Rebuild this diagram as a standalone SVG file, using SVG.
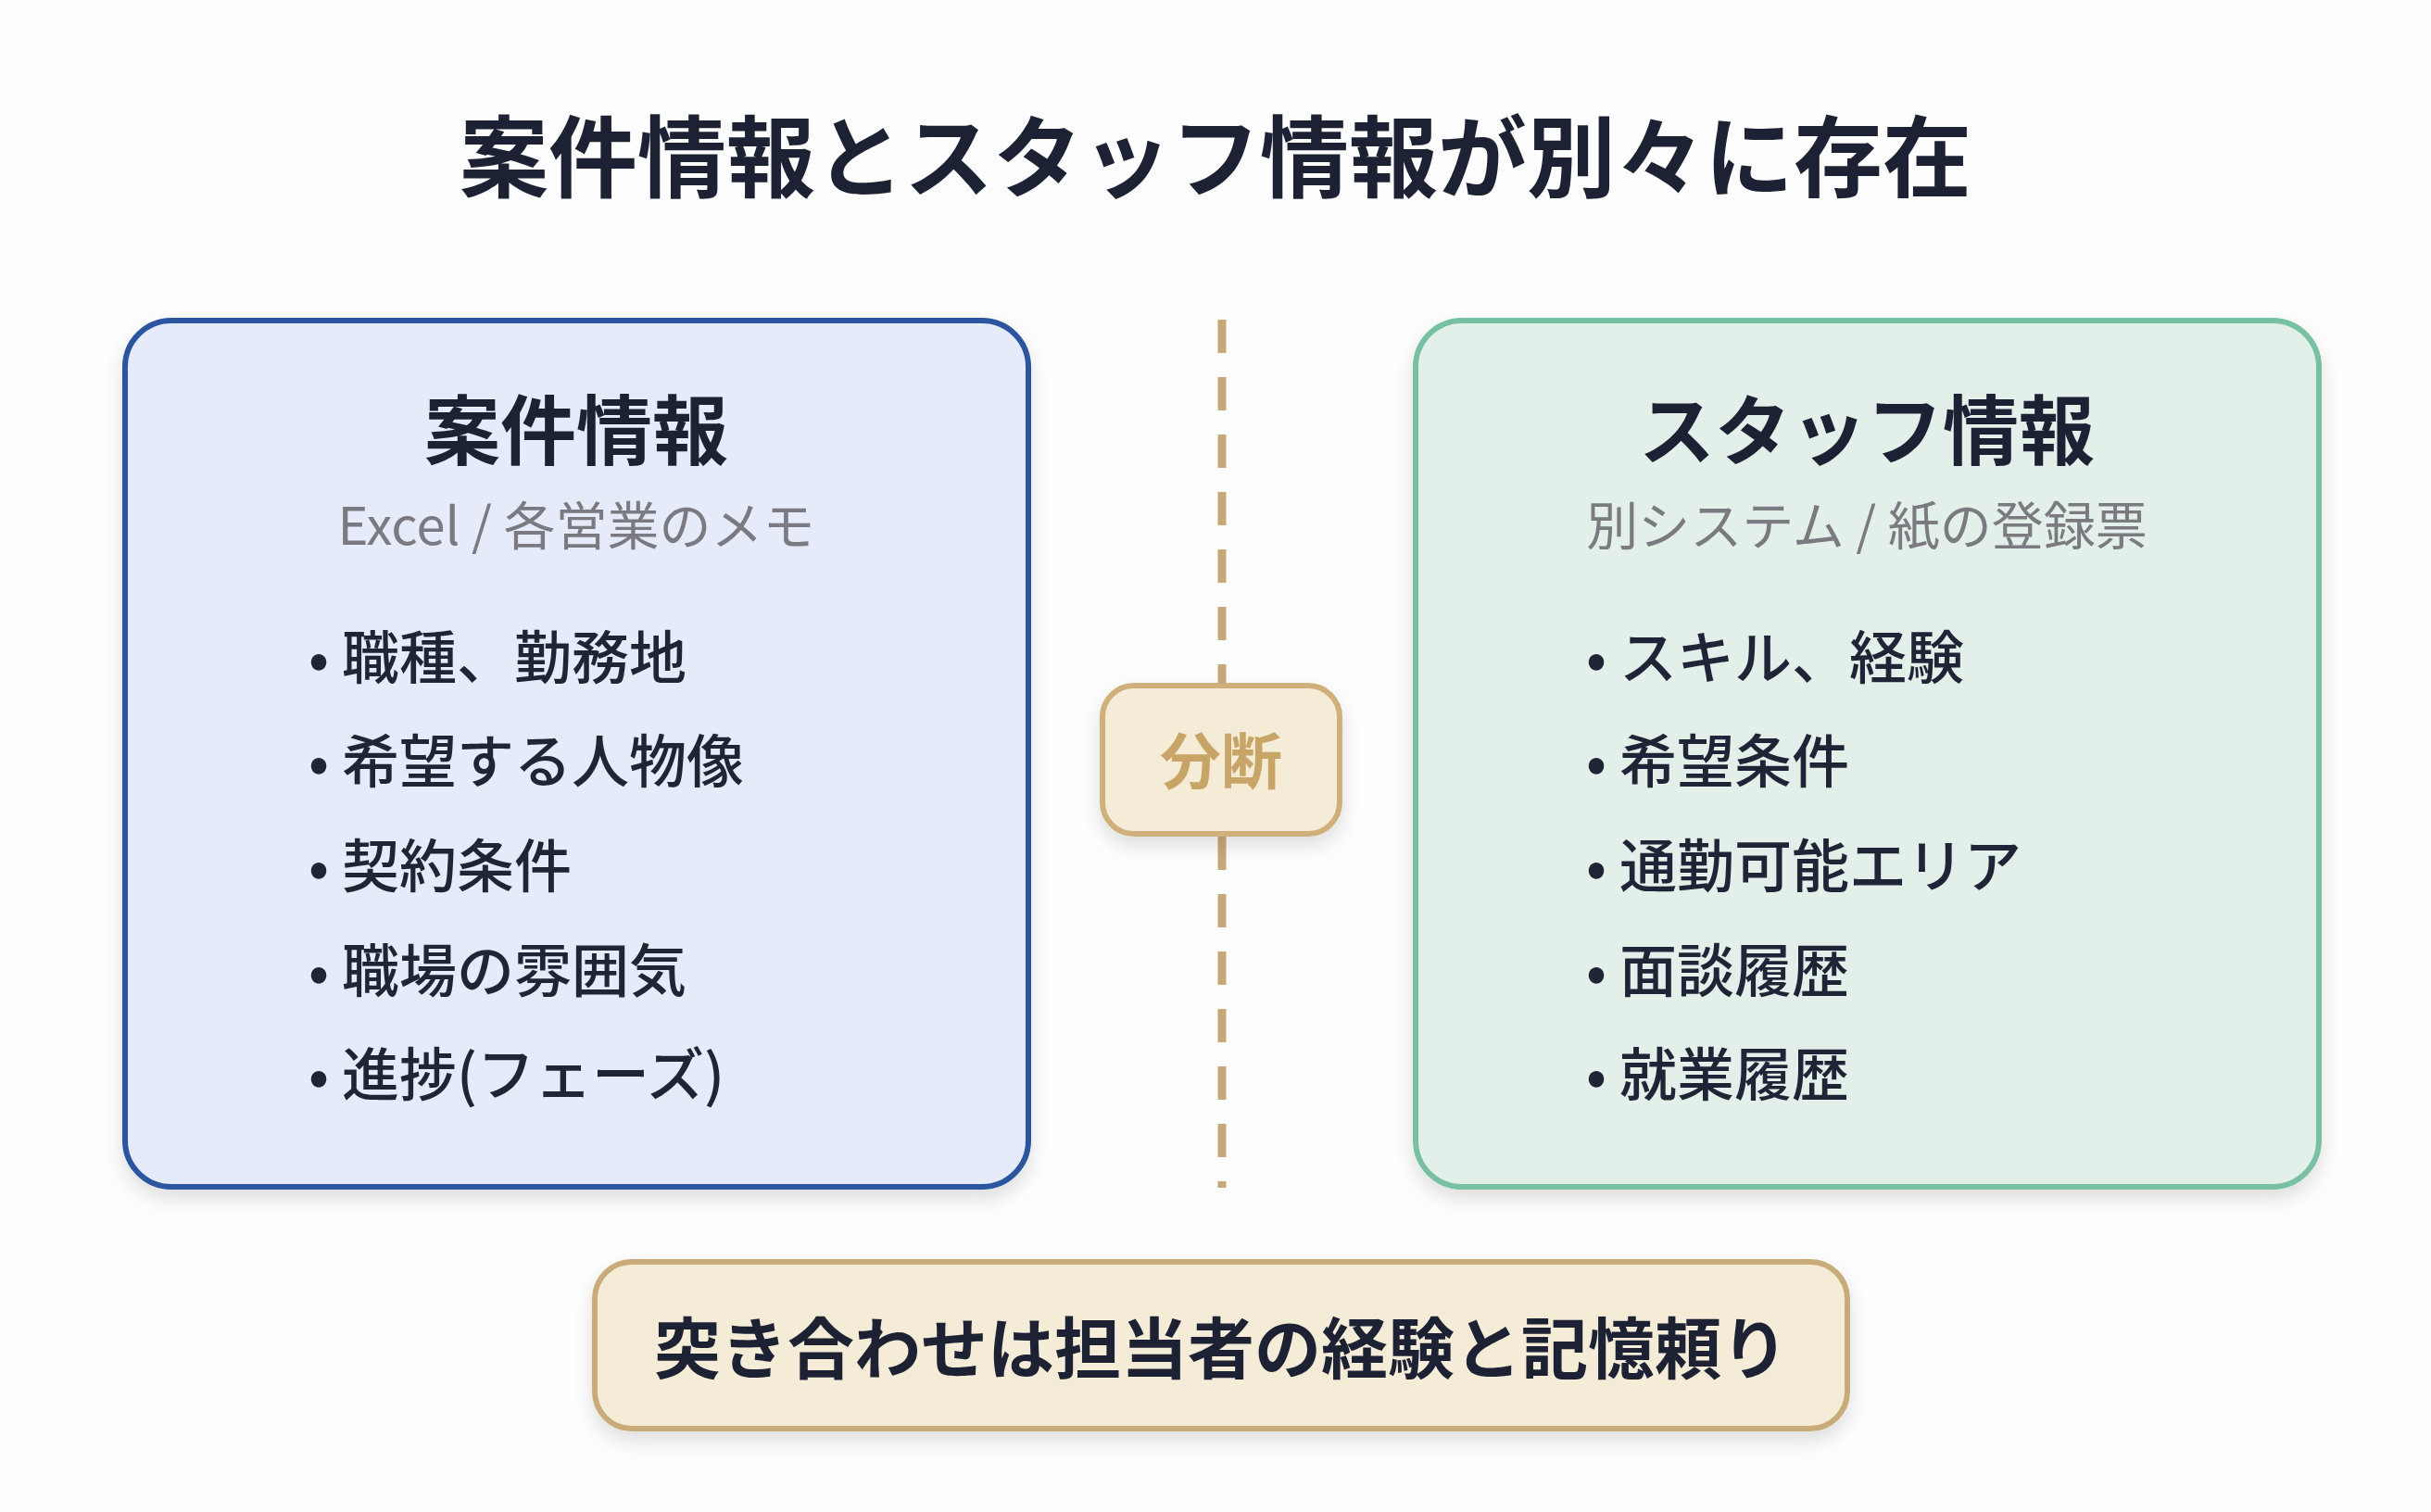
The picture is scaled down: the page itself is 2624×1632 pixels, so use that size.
<svg xmlns="http://www.w3.org/2000/svg" width="2624" height="1632" viewBox="0 0 2624 1632">
<defs>
<style>
text{font-family:"Noto Sans CJK JP","Noto Sans",sans-serif;}
.t{font-weight:700;fill:#1c2233;}
.sub{fill:#7a7a80;font-size:56px;}
.b{fill:#1f2436;font-size:62px;font-weight:500;}
</style>
<filter id="sh" x="-10%" y="-10%" width="120%" height="130%"><feDropShadow dx="0" dy="10" stdDeviation="10" flood-color="#000" flood-opacity="0.12"/></filter>
</defs>
<rect width="2624" height="1632" fill="#fdfdfd"/>
<text class="t" x="1312" y="205" font-size="96" text-anchor="middle">案件情報とスタッフ情報が別々に存在</text>
<g id="connectors"><line x1="1319" y1="345" x2="1319" y2="1282" stroke="#c8a878" stroke-width="9" stroke-dasharray="36,26"/></g>
<g id="left">
<rect x="135" y="346" width="975" height="935" rx="50" fill="#e5ebf8" stroke="#2a55a0" stroke-width="6" filter="url(#sh)"/>
<text class="t" x="622" y="495" font-size="82" text-anchor="middle">案件情報</text>
<text class="sub" x="622" y="588" text-anchor="middle">Excel / 各営業のメモ</text>
<g class="b"><text x="333" y="733">• 職種、勤務地</text><text x="333" y="845">• 希望する人物像</text><text x="333" y="958">• 契約条件</text><text x="333" y="1071">• 職場の雰囲気</text><text x="333" y="1183">• 進捗(フェーズ)</text></g>
</g>
<g id="right">
<rect x="1528" y="346" width="975" height="935" rx="50" fill="#e3f0e9" stroke="#78c0a2" stroke-width="6" filter="url(#sh)"/>
<text class="t" x="2015" y="495" font-size="82" text-anchor="middle">スタッフ情報</text>
<text class="sub" x="2015" y="588" text-anchor="middle">別システム / 紙の登録票</text>
<g class="b"><text x="1712" y="733">• スキル、経験</text><text x="1712" y="845">• 希望条件</text><text x="1712" y="958">• 通勤可能エリア</text><text x="1712" y="1071">• 面談履歴</text><text x="1712" y="1183">• 就業履歴</text></g>
</g>
<g id="split">
<rect x="1190" y="740" width="256" height="160" rx="34" fill="#f5ecd8" stroke="#cfb07a" stroke-width="6" filter="url(#sh)"/>
<text x="1318" y="846" font-size="66" font-weight="700" fill="#c8a566" text-anchor="middle">分断</text>
</g>
<g id="bottom">
<rect x="642" y="1362" width="1352" height="180" rx="40" fill="#f5ecd8" stroke="#c8ab78" stroke-width="6" filter="url(#sh)"/>
<text class="t" x="1318" y="1482" font-size="72" text-anchor="middle">突き合わせは担当者の経験と記憶頼り</text>
</g>
</svg>
